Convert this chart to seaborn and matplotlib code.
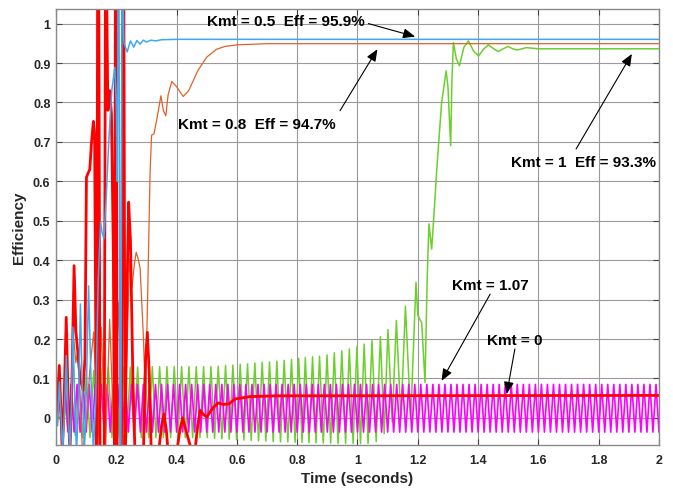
import numpy as np
import pandas as pd
import matplotlib
matplotlib.use('Agg')
import matplotlib.pyplot as plt
import matplotlib.ticker as ticker
import seaborn as sns

sns.set_style('ticks', {'xtick.direction': 'in', 'ytick.direction': 'in'})
plt.rcParams['font.family'] = ['Liberation Sans', 'DejaVu Sans']
plt.rcParams['font.weight'] = 'bold'
plt.rcParams['axes.labelweight'] = 'bold'

# ---------------- data (time in s, efficiency) ----------------

# Kmt = 0.5 (blue)
blue_t = [0.000, 0.005, 0.011, 0.017, 0.022, 0.028, 0.034, 0.040, 0.046, 0.051, 0.056, 0.062,
          0.068, 0.075, 0.081, 0.087, 0.094, 0.101, 0.108, 0.116, 0.124, 0.132, 0.140, 0.148,
          0.153, 0.159, 0.166, 0.175, 0.185, 0.195, 0.200, 0.203, 0.206, 0.209, 0.212, 0.215,
          0.219, 0.222, 0.225, 0.236, 0.247, 0.258, 0.268, 0.279, 0.290, 0.300, 0.315, 0.330,
          0.350, 0.400, 2.000]
blue_y = [0.000, -0.020, 0.091, 0.000, -0.090, 0.020, 0.158, 0.020, -0.090, 0.030, 0.230, 0.050,
          -0.090, 0.050, 0.289, 0.080, -0.090, 0.080, 0.335, 0.100, -0.090, 0.050, 0.350, 0.497,
          0.470, 0.454, 0.550, 0.700, 0.830, 0.889, 0.800, 0.600, 1.100, 1.100, -0.090, -0.090,
          1.100, 1.100, 0.952, 0.928, 0.956, 0.940, 0.957, 0.948, 0.958, 0.953, 0.958, 0.956,
          0.959, 0.960, 0.960]

# Kmt = 0.8 (orange)
orange_t = [0.000, 0.006, 0.012, 0.018, 0.023, 0.029, 0.035, 0.041, 0.047, 0.053, 0.059, 0.066,
            0.072, 0.080, 0.088, 0.100, 0.112, 0.125, 0.131, 0.138, 0.144, 0.150, 0.157, 0.164,
            0.171, 0.178, 0.186, 0.193, 0.200, 0.208, 0.216, 0.225, 0.235, 0.244, 0.252, 0.260,
            0.266, 0.272, 0.279, 0.289, 0.297, 0.305, 0.312, 0.317, 0.325, 0.335, 0.348, 0.356,
            0.364, 0.372, 0.384, 0.400, 0.422, 0.440, 0.470, 0.500, 0.533, 0.560, 0.600, 0.700,
            2.000]
orange_y = [0.000, -0.010, 0.100, 0.020, -0.090, 0.050, 0.190, 0.050, -0.090, 0.060, 0.200, 0.140,
            0.170, 0.050, -0.090, -0.020, 0.120, 0.218, 0.100, -0.090, 0.080, 0.230, 0.080, -0.090,
            0.080, 0.250, 0.080, -0.090, 0.080, 0.293, 0.080, -0.090, 0.150, 0.403, 0.330, 0.390,
            0.420, 0.405, 0.380, 0.220, 0.050, 0.350, 0.620, 0.717, 0.720, 0.760, 0.817, 0.780,
            0.766, 0.820, 0.853, 0.840, 0.815, 0.830, 0.880, 0.915, 0.935, 0.942, 0.946, 0.949,
            0.949]

# Kmt = 0 (red)
red_t = [0.000, 0.005, 0.011, 0.016, 0.021, 0.027, 0.034, 0.040, 0.046, 0.053, 0.060, 0.066,
         0.072, 0.080, 0.090, 0.096, 0.101, 0.106, 0.112, 0.118, 0.124, 0.128, 0.132, 0.135,
         0.138, 0.142, 0.146, 0.160, 0.164, 0.168, 0.172, 0.178, 0.184, 0.190, 0.194, 0.197,
         0.200, 0.203, 0.217, 0.221, 0.225, 0.229, 0.234, 0.241, 0.247, 0.255, 0.262, 0.290,
         0.297, 0.303, 0.309, 0.316, 0.340, 0.350, 0.358, 0.366, 0.372, 0.400, 0.411, 0.420,
         0.445, 0.460, 0.470, 0.478, 0.490, 0.500, 0.520, 0.538, 0.555, 0.575, 0.594, 0.643,
         0.730, 2.000]
red_y = [0.000, 0.050, 0.133, 0.020, -0.090, 0.050, 0.255, 0.050, -0.090, 0.100, 0.386, 0.220,
         0.170, 0.100, 0.070, 0.150, 0.610, 0.620, 0.630, 0.700, 0.752, 0.720, 0.200, -0.090,
         1.100, 1.100, -0.090, -0.090, 1.100, 1.100, 0.780, 0.830, 0.770, 0.430, -0.090, 1.100,
         1.100, -0.090, -0.090, 1.100, 1.100, -0.090, 0.250, 0.547, 0.450, 0.100, -0.090, -0.090,
         0.150, 0.217, 0.120, -0.090, -0.090, -0.020, 0.010, -0.030, -0.090, -0.090, -0.030, 0.000,
         -0.070, -0.090, -0.020, 0.019, 0.008, 0.002, 0.025, 0.038, 0.034, 0.036, 0.048, 0.054,
         0.056, 0.057]

# Kmt = 1 (green): growing ripple, then recovery
green_period = 0.0243
green_first_peak = 0.0035
green_early_peaks = [0.010, 0.040, 0.070, 0.095, 0.110, 0.120, 0.125, 0.128, 0.128, 0.129,
                     0.129, 0.129, 0.130, 0.130, 0.130, 0.130, 0.130, 0.130, 0.130, 0.130,
                     0.130, 0.130, 0.131, 0.133, 0.134, 0.136, 0.137, 0.139, 0.141, 0.142,
                     0.144, 0.146, 0.148]
green_late_peak_t = [0.805, 0.827, 0.851, 0.874, 0.899, 0.923, 0.948, 0.973, 0.998, 1.022,
                     1.048, 1.076, 1.101, 1.129, 1.159, 1.194]
green_late_peaks = [0.151, 0.153, 0.155, 0.157, 0.160, 0.165, 0.170, 0.175, 0.181, 0.187,
                    0.196, 0.206, 0.224, 0.247, 0.283, 0.344]
green_troughs = [-0.005, -0.030, -0.045, -0.050, -0.050, -0.050, -0.050, -0.050, -0.050, -0.050,
                 -0.050, -0.050, -0.050, -0.050, -0.050, -0.050, -0.050, -0.050, -0.050, -0.050,
                 -0.050, -0.052, -0.053, -0.054, -0.055, -0.056, -0.057, -0.058, -0.059, -0.060,
                 -0.061, -0.061, -0.062, -0.062, -0.063, -0.063, -0.064, -0.064, -0.065, -0.065,
                 -0.065, -0.065, -0.065, -0.060, -0.040, -0.010, -0.003, -0.003]
green_tail_t = [1.200, 1.207, 1.213, 1.224, 1.231, 1.237, 1.246, 1.254, 1.263, 1.279, 1.294,
                1.300, 1.309, 1.313, 1.318, 1.328, 1.338, 1.353, 1.368, 1.385, 1.402, 1.418,
                1.434, 1.450, 1.467, 1.483, 1.499, 1.515, 1.530, 1.560, 1.600, 2.000]
green_tail_y = [0.260, 0.250, 0.240, 0.090, 0.350, 0.492, 0.428, 0.520, 0.631, 0.800, 0.880,
                0.840, 0.690, 0.850, 0.952, 0.910, 0.893, 0.940, 0.956, 0.930, 0.918, 0.935,
                0.946, 0.937, 0.929, 0.936, 0.942, 0.936, 0.933, 0.939, 0.936, 0.936]

# Kmt = 1.07 (magenta): 50 Hz ripple
magenta_period = 0.02
magenta_first_peaks = [0.060, 0.075]
magenta_peak = 0.085
magenta_first_troughs = [-0.030]
magenta_trough = -0.036

# ---------------- build series ----------------
g_peak_t = [round(green_first_peak + green_period * k, 4) for k in range(len(green_early_peaks))]
g_peak_t += green_late_peak_t
g_peak_y = green_early_peaks + green_late_peaks
g_t, g_y = [0.0], [0.0]
for i, (pt, py) in enumerate(zip(g_peak_t, g_peak_y)):
    g_t.append(pt)
    g_y.append(py)
    if i + 1 < len(g_peak_t):
        g_t.append((pt + g_peak_t[i + 1]) / 2)
        g_y.append(green_troughs[i])
g_t += green_tail_t
g_y += green_tail_y
green = pd.DataFrame({'t': g_t, 'eff': g_y})

n_cyc = int(round(2.0 / magenta_period))
m_t, m_y = [0.0], [0.0]
for k in range(n_cyc):
    m_t.append(round(magenta_period * k + magenta_period / 2, 4))
    m_y.append(magenta_first_peaks[k] if k < len(magenta_first_peaks) else magenta_peak)
    m_t.append(round(magenta_period * (k + 1), 4))
    m_y.append(magenta_first_troughs[k] if k < len(magenta_first_troughs) else magenta_trough)
magenta = pd.DataFrame({'t': m_t, 'eff': m_y})

blue = pd.DataFrame({'t': blue_t, 'eff': blue_y})
orange = pd.DataFrame({'t': orange_t, 'eff': orange_y})
red = pd.DataFrame({'t': red_t, 'eff': red_y})

# ---------------- plot ----------------
fig = plt.figure(figsize=(6.73, 4.89), dpi=100)
ax = fig.add_axes([0.0832, 0.0885, 0.8960, 0.8911])

kw = dict(x='t', y='eff', ax=ax, estimator=None, sort=False, legend=False)
sns.lineplot(data=green, color='#6ccf2c', lw=1.1, **kw)
sns.lineplot(data=magenta, color='#ff00ff', lw=1.2, **kw)
sns.lineplot(data=orange, color='#e0622a', lw=0.9, **kw)
sns.lineplot(data=red, color='#ff0000', lw=2.0, **kw)
sns.lineplot(data=blue, color='#3ea8f2', lw=1.1, **kw)

ax.set_xlim(0, 2)
ax.set_ylim(-0.068, 1.037)
ax.set_xticks(np.arange(0, 2.01, 0.2))
ax.set_yticks(np.arange(0, 1.01, 0.1))
ax.xaxis.set_major_formatter(ticker.FuncFormatter(lambda v, p: '%g' % round(v, 2)))
ax.yaxis.set_major_formatter(ticker.FuncFormatter(lambda v, p: '%g' % round(v, 2)))
ax.grid(True, color='#9a9a9a', lw=0.8)
ax.set_axisbelow(True)
ax.tick_params(direction='in', top=True, right=True, length=4, width=0.8,
               color='#444444', labelsize=9, labelcolor='#262626')
ax.tick_params(axis='x', pad=7)
ax.tick_params(axis='y', pad=4)
for s in ax.spines.values():
    s.set_color('#8a8a8a')
    s.set_linewidth(1.0)

ax.set_xlabel('Time (seconds)', fontsize=11, color='#262626', labelpad=3)
ax.set_ylabel('Efficiency', fontsize=11, color='#262626', labelpad=5)

arrow = dict(arrowstyle='-|>,head_length=0.6,head_width=0.25', color='k', lw=0.8,
             mutation_scale=12, shrinkA=0, shrinkB=0)
labels = [
    ('Kmt = 0.5  Eff = 95.9%', (0.501, 1.006), (1.036, 1.000), (1.191, 0.967)),
    ('Kmt = 0.8  Eff = 94.7%', (0.405, 0.745), (0.942, 0.779), (1.066, 0.935)),
    ('Kmt = 1  Eff = 93.3%', (1.509, 0.649), (1.725, 0.682), (1.910, 0.923)),
    ('Kmt = 1.07', (1.312, 0.337), (1.440, 0.314), (1.279, 0.094)),
    ('Kmt = 0', (1.428, 0.198), (1.522, 0.175), (1.495, 0.061)),
]
for txt, pos, tail, tip in labels:
    ax.text(pos[0], pos[1], txt, fontsize=11, fontweight='bold', ha='left', va='center',
            color='k')
    ax.annotate('', xy=tip, xytext=tail, arrowprops=arrow)

fig.savefig('out.png', dpi=100)
plt.close()
